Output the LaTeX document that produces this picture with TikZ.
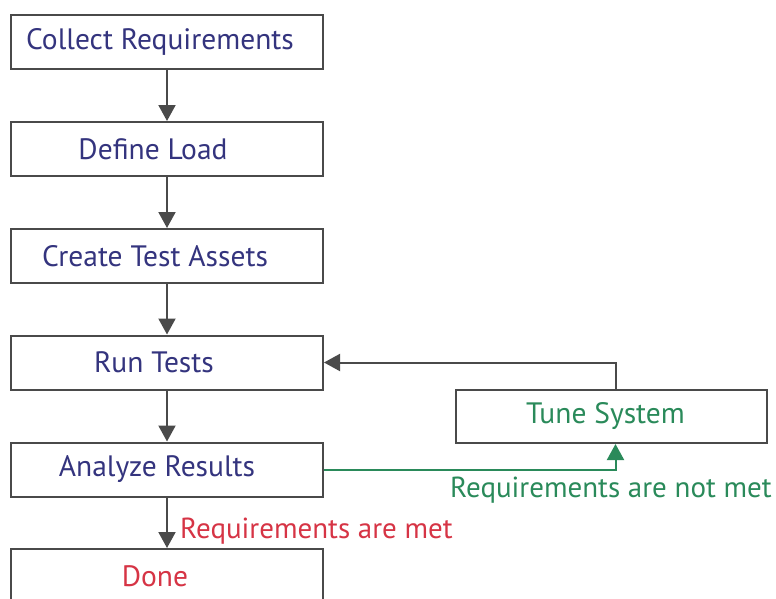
\documentclass[tikz,border=0pt]{standalone}
\usepackage{fontspec}
\setmainfont{PT Sans}
\usetikzlibrary{arrows.meta}
\definecolor{txtblue}{HTML}{34347E}
\definecolor{grn}{HTML}{2A8A5A}
\definecolor{rd}{HTML}{D63445}
\definecolor{ln}{HTML}{4A4A4A}
\begin{document}
\begin{tikzpicture}[x=1pt,y=-1pt,
  box/.style={draw=ln, line width=2pt, minimum width=312pt, minimum height=54pt,
    inner sep=0pt, font=\fontsize{29.5}{33}\selectfont, text=txtblue, fill=white},
  lshift/.style={execute at end node={\hspace*{#1}}},
  flow/.style={draw=ln, line width=2pt, -{Triangle[length=16pt,width=17pt]}},
  gflow/.style={draw=grn, line width=2pt, -{Triangle[length=16pt,width=17pt]}},
  lbl/.style={font=\fontsize{29}{33}\selectfont, inner sep=0pt}]
\useasboundingbox (0,0) rectangle (776,598);
\clip (0,0) rectangle (776,598);
\node[box, lshift=14pt] (collect) at (167,42) {Collect Requirements};
\node[box, lshift=28pt] (define) at (167,149) {Define Load};
\node[box, lshift=24pt] (create) at (167,256) {Create Test Assets};
\node[box, lshift=26pt] (run) at (167,362.5) {Run Tests};
\node[box, lshift=20pt] (analyze) at (167,469.5) {Analyze Results};
\node[box, text=rd, lshift=24pt] (done) at (167,576) {Done};
\node[box, text=grn, minimum width=311pt, minimum height=53pt, lshift=12pt] (tune) at (611.5,416.5) {Tune System};
\draw[flow] (collect) -- (define);
\draw[flow] (define) -- (create);
\draw[flow] (create) -- (run);
\draw[flow] (run) -- (analyze);
\draw[flow] (analyze) -- (done);
\draw[flow] ([xshift=4pt]tune.north) |- (run.east);
\draw[gflow] (analyze.east) -| ([xshift=4pt]tune.south);
\node[lbl, text=grn, anchor=base west] (notmet) at (450,497) {Requirements are not met};
\node[lbl, text=rd, anchor=base west] (met) at (180,538) {Requirements are met};
\end{tikzpicture}
\end{document}
